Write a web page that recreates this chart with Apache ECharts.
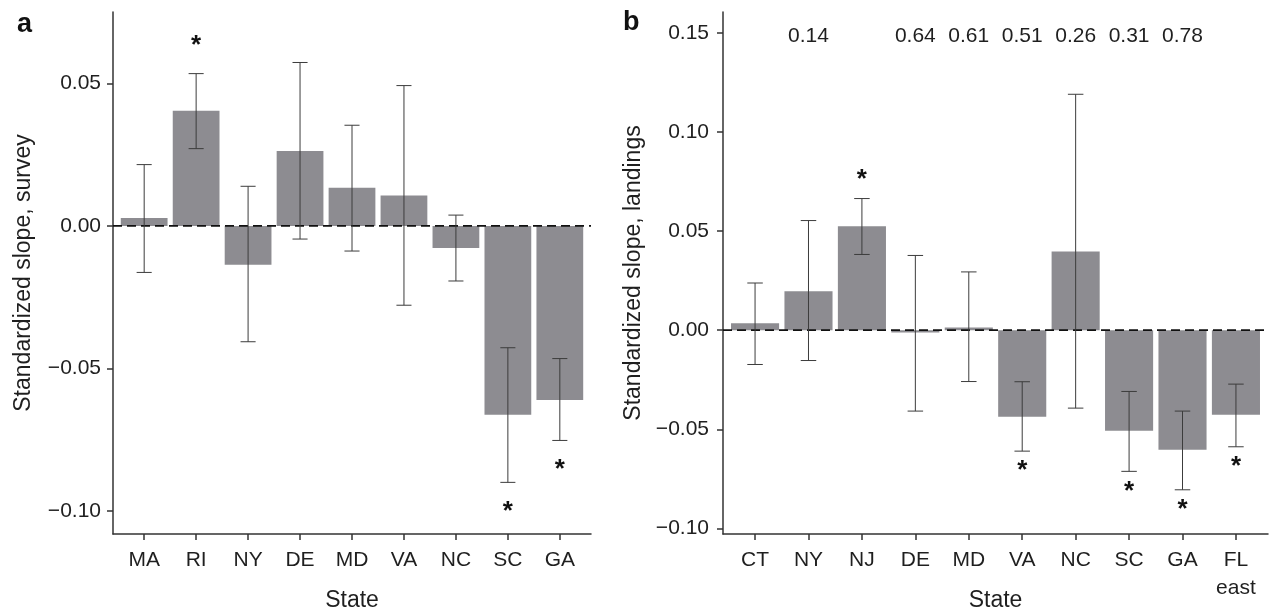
<!DOCTYPE html>
<html>
<head>
<meta charset="utf-8">
<script src="https://cdn.jsdelivr.net/npm/echarts@6/dist/echarts.min.js"></script>
<style>
html,body{margin:0;padding:0;background:#fff;}
#chart{width:1269px;height:612px;}
</style>
</head>
<body>
<div id="chart"></div>
<script>
// ---- Data ----
const catsA = ['MA','RI','NY','DE','MD','VA','NC','SC','GA'];
const slopeA = [0.0028, 0.0404, -0.0136, 0.0263, 0.0134, 0.0107, -0.0077, -0.0662, -0.0610];
const lowA   = [-0.0163, 0.0271, -0.0406, -0.0046, -0.0088, -0.0278, -0.0193, -0.0899, -0.0752];
const highA  = [0.0215, 0.0534, 0.0139, 0.0573, 0.0353, 0.0492, 0.0038, -0.0427, -0.0465];
const sigA   = [0, 1, 0, 0, 0, 0, 0, 1, 1];

const catsB = ['CT','NY','NJ','DE','MD','VA','NC','SC','GA','FL\neast'];
const slopeB = [0.0035, 0.0197, 0.0524, -0.0012, 0.0014, -0.0437, 0.0397, -0.0507, -0.0603, -0.0427];
const lowB   = [-0.0173, -0.0153, 0.0382, -0.0408, -0.0259, -0.0610, -0.0393, -0.0712, -0.0805, -0.0588];
const highB  = [0.0238, 0.0553, 0.0664, 0.0377, 0.0294, -0.0260, 0.1190, -0.0309, -0.0408, -0.0272];
const sigB   = [0, 0, 1, 0, 0, 1, 0, 1, 1, 1];
const pB     = ['', '0.14', '', '0.64', '0.61', '0.51', '0.26', '0.31', '0.78', ''];

const yTicksA = [-0.10, -0.05, 0.00, 0.05];
const yTicksB = [-0.10, -0.05, 0.00, 0.05, 0.10, 0.15];

// ---- Styles ----
const FONT = '"Liberation Sans", Arial, Helvetica, sans-serif';
const TXT = '#1f1f1f';
const AX = '#333333';
const BAR = '#8d8c91';
const ERR = '#3c3c3c';

function fmtY(v){
  const s = Math.abs(v).toFixed(2);
  return v < -1e-9 ? '\u2212' + s : s;
}
function idx(n){ const a=[]; for(let i=0;i<n;i++) a.push(i); return a; }

function barRender(params, api){
  const x = api.value(0), v = api.value(1);
  const p0 = api.coord([x - 0.45, Math.max(v, 0)]);
  const p1 = api.coord([x + 0.45, Math.min(v, 0)]);
  return {type:'rect', shape:{x:p0[0], y:p0[1], width:p1[0]-p0[0], height:p1[1]-p0[1]}, style:{fill:BAR}};
}
function errRender(params, api){
  const x = api.value(0), lo = api.value(1), hi = api.value(2);
  const w = 0.145;
  const t = api.coord([x, hi]), b = api.coord([x, lo]);
  const tl = api.coord([x - w, hi]), tr = api.coord([x + w, hi]);
  const bl = api.coord([x - w, lo]), br = api.coord([x + w, lo]);
  const st = {stroke:ERR, lineWidth:1};
  return {type:'group', children:[
    {type:'line', shape:{x1:t[0], y1:t[1], x2:b[0], y2:b[1]}, style:st},
    {type:'line', shape:{x1:tl[0], y1:tl[1], x2:tr[0], y2:tr[1]}, style:st},
    {type:'line', shape:{x1:bl[0], y1:bl[1], x2:br[0], y2:br[1]}, style:st}
  ]};
}
function zeroRender(params, api){
  const cs = params.coordSys;
  const p = api.coord([0, 0]);
  return {type:'line', shape:{x1:cs.x, y1:p[1], x2:cs.x+cs.width, y2:p[1]},
    style:{stroke:'#111', lineWidth:1.8, lineDash:[9,5]}};
}
function starRenderFactory(offUp, offDown){
  return function(params, api){
    const x = api.value(0), v = api.value(1), lo = api.value(2), hi = api.value(3), s = api.value(4);
    if (!s) return null;
    let p;
    if (v >= 0) { p = api.coord([x, hi]); p[1] -= offUp; }
    else { p = api.coord([x, lo]); p[1] += offDown; }
    return {type:'text', x:p[0], y:p[1] + 7, style:{text:'*', fill:'#111', font:'bold 26px ' + FONT, align:'center', verticalAlign:'middle'}};
  };
}
function pRender(params, api){
  const x = api.value(0);
  const txt = pB[params.dataIndex];
  if (!txt) return null;
  const p = api.coord([x, 0.1483]);
  return {type:'text', x:p[0], y:p[1], style:{text:txt, fill:TXT, font:'21px ' + FONT, align:'center', verticalAlign:'middle'}};
}

function xAxisCfg(grid, cats){
  return {
    gridIndex: grid, type:'value', min:-0.6, max:cats.length - 0.4,
    splitLine:{show:false},
    axisLine:{show:true, onZero:false, lineStyle:{color:AX, width:1.5}},
    axisTick:{show:true, customValues:idx(cats.length), length:6, lineStyle:{color:AX, width:1.5}},
    axisLabel:{customValues:idx(cats.length), formatter:(v)=>cats[Math.round(v)], fontSize:21, fontFamily:FONT, color:TXT, margin:12, lineHeight:28},
    name:'State', nameLocation:'middle', nameGap:55, nameMoveOverlap:false,
    nameTextStyle:{fontSize:23, fontFamily:FONT, color:TXT}
  };
}
function yAxisCfg(grid, min, max, ticks, name, margin){
  return {
    gridIndex: grid, type:'value', min:min, max:max,
    splitLine:{show:false},
    axisLine:{show:true, onZero:false, lineStyle:{color:AX, width:1.5}},
    axisTick:{show:true, customValues:ticks, length:6, lineStyle:{color:AX, width:1.5}},
    axisLabel:{customValues:ticks, formatter:fmtY, fontSize:21, fontFamily:FONT, color:TXT, margin:margin},
    name:name, nameLocation:'middle', nameGap:78, nameRotate:90, nameMoveOverlap:false,
    nameTextStyle:{fontSize:23, fontFamily:FONT, color:TXT}
  };
}

const dataBarA = catsA.map((c,i)=>[i, slopeA[i]]);
const dataErrA = catsA.map((c,i)=>[i, lowA[i], highA[i]]);
const dataStarA = catsA.map((c,i)=>[i, slopeA[i], lowA[i], highA[i], sigA[i]]);
const dataBarB = catsB.map((c,i)=>[i, slopeB[i]]);
const dataErrB = catsB.map((c,i)=>[i, lowB[i], highB[i]]);
const dataStarB = catsB.map((c,i)=>[i, slopeB[i], lowB[i], highB[i], sigB[i]]);
const dataPB = catsB.map((c,i)=>[i, 0]);

const chart = echarts.init(document.getElementById('chart'), null, {renderer:'canvas'});
chart.setOption({
  backgroundColor:'#ffffff',
  animation:false,
  grid:[
    {left:113, top:12, width:478, height:522, containLabel:false, outerBoundsMode:'none'},
    {left:723, top:12, width:545, height:522, containLabel:false, outerBoundsMode:'none'}
  ],
  xAxis:[xAxisCfg(0, catsA), xAxisCfg(1, catsB)],
  yAxis:[
    yAxisCfg(0, -0.108, 0.075, yTicksA, 'Standardized slope, survey', 12),
    yAxisCfg(1, -0.1028, 0.1605, yTicksB, 'Standardized slope, landings', 14)
  ],
  graphic:[
    {type:'text', left:17, top:11, style:{text:'a', font:'bold 27px ' + FONT, fill:'#111'}},
    {type:'text', left:623, top:9, style:{text:'b', font:'bold 27px ' + FONT, fill:'#111'}}
  ],
  series:[
    {type:'custom', xAxisIndex:0, yAxisIndex:0, renderItem:barRender, data:dataBarA, z:1, silent:true},
    {type:'custom', xAxisIndex:0, yAxisIndex:0, renderItem:zeroRender, data:[[0,0]], z:2, silent:true},
    {type:'custom', xAxisIndex:0, yAxisIndex:0, renderItem:errRender, data:dataErrA, z:3, silent:true},
    {type:'custom', xAxisIndex:0, yAxisIndex:0, renderItem:starRenderFactory(35, 22), data:dataStarA, z:4, silent:true},
    {type:'custom', xAxisIndex:1, yAxisIndex:1, renderItem:barRender, data:dataBarB, z:1, silent:true},
    {type:'custom', xAxisIndex:1, yAxisIndex:1, renderItem:zeroRender, data:[[0,0]], z:2, silent:true},
    {type:'custom', xAxisIndex:1, yAxisIndex:1, renderItem:errRender, data:dataErrB, z:3, silent:true},
    {type:'custom', xAxisIndex:1, yAxisIndex:1, renderItem:starRenderFactory(26, 13), data:dataStarB, z:4, silent:true},
    {type:'custom', xAxisIndex:1, yAxisIndex:1, renderItem:pRender, data:dataPB, z:4, silent:true}
  ]
});
</script>
</body>
</html>
